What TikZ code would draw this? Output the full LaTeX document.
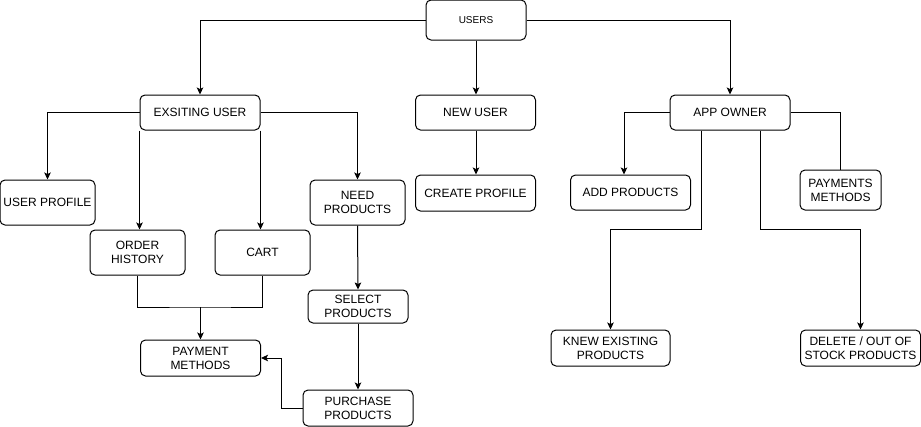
\documentclass[tikz,border=0pt]{standalone}
\usepackage{fontspec}
\setmainfont{Liberation Sans}
\usetikzlibrary{arrows.meta}
\begin{document}
\begin{tikzpicture}[x=1pt,y=-1pt,
  box/.style={draw=black,line width=1pt,rounded corners=5pt,fill=white,inner sep=0pt,
    align=center,font=\fontsize{12}{14}\selectfont},
  conn/.style={draw=black,line width=1pt},
  arr/.style={conn,-{Stealth[length=7pt,width=6.5pt,inset=1.5pt]}}]
\useasboundingbox[fill=white] (0,0) rectangle (921,426);
% nodes
\node[box,minimum width=100pt,minimum height=40pt,font=\fontsize{10}{12}\selectfont] (users) at (476,20) {USERS};
\node[box,minimum width=120pt,minimum height=35pt] (eu) at (200,112.5) {EXSITING USER};
\node[box,minimum width=120pt,minimum height=35pt] (nu) at (475.5,112.5) {NEW USER};
\node[box,minimum width=120pt,minimum height=35pt] (ao) at (730,112.5) {APP OWNER};
\node[box,minimum width=95pt,minimum height=45pt] (up) at (47.5,202.5) {USER PROFILE};
\node[box,minimum width=95pt,minimum height=45pt] (oh) at (137.5,252.5) {ORDER\\HISTORY};
\node[box,minimum width=95pt,minimum height=45pt] (cart) at (262.5,252.5) {CART};
\node[box,minimum width=95pt,minimum height=45pt] (np) at (357.5,202.5) {NEED\\PRODUCTS};
\node[box,minimum width=120pt,minimum height=36pt] (cp) at (475.5,193) {CREATE PROFILE};
\node[box,minimum width=120pt,minimum height=35pt] (ap) at (630.5,192.5) {ADD PRODUCTS};
\node[box,minimum width=81pt,minimum height=40pt] (pmo) at (840.5,190) {PAYMENTS\\METHODS};
\node[box,minimum width=100pt,minimum height=33pt] (sp) at (358,306.5) {SELECT\\PRODUCTS};
\node[box,minimum width=110pt,minimum height=36pt] (pp) at (358,408) {PURCHASE\\PRODUCTS};
\node[box,minimum width=120pt,minimum height=36pt] (pm) at (200.5,358) {PAYMENT\\METHODS};
\node[box,minimum width=119pt,minimum height=36pt] (ke) at (610.5,348) {KNEW EXISTING\\PRODUCTS};
\node[box,minimum width=120pt,minimum height=36pt] (del) at (860.5,348) {DELETE / OUT OF\\STOCK PRODUCTS};
% connectors
\draw[arr] (users.west) -| (eu.north);
\draw[arr] (users.east) -| (ao.north);
\draw[arr] (users.south) -- (users.south |- nu.north);
\draw[arr] (users.south |- nu.south) -- (users.south |- cp.north);
\draw[arr] (eu.west) -| (up.north);
\draw[arr] (eu.east) -| (np.north);
\draw[arr] (eu.south west) -- (eu.south west |- oh.north);
\draw[arr] (eu.south east) -- (eu.south east |- cart.north);
\coordinate (j) at (pm.north |- 0,307);
\draw[conn] (oh.south) |- (j) -| (cart.south);
\draw[arr] (j) -- (pm.north);
\draw[arr] (np.south) -- (sp.north);
\draw[arr] (sp.south) -- (pp.north);
\draw[arr] (pp.west) -- ++(-21,0) |- (pm.east);
\draw[arr] (ao.west) -| ([xshift=-6.5pt]ap.north);
\draw[conn] (ao.east) -| (pmo.north);
\draw[arr] ([xshift=-29pt]ao.south) -- ++(0,99) -| (ke.north);
\draw[arr] ([xshift=30pt]ao.south) -- ++(0,99) -| (del.north);
\end{tikzpicture}
\end{document}
